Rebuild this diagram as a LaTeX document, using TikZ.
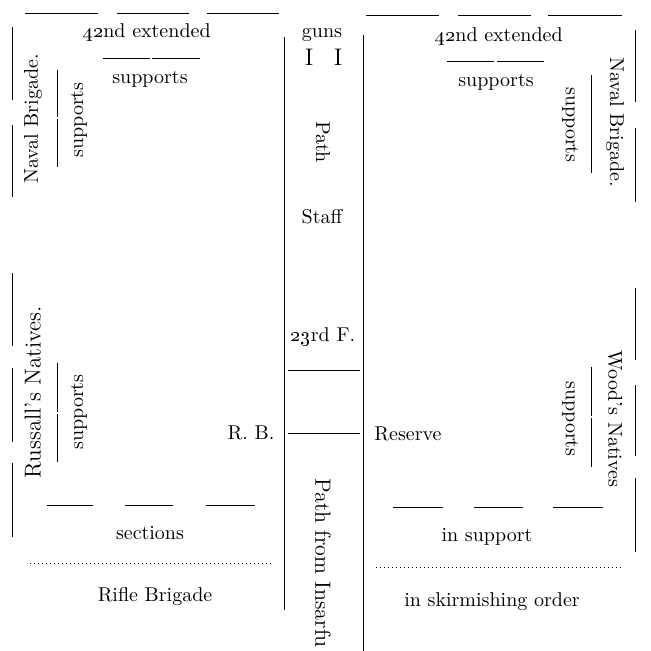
\documentclass[tikz,border=0pt]{standalone}
\usetikzlibrary{positioning}

\tikzset{
 lbl/.style={inner sep=1pt, font=\fontsize{10}{12}\selectfont},
 upword/.style={lbl, rotate=90},
 downword/.style={lbl, rotate=-90},
 rule/.style={black, line width=0.45pt},
 dotrule/.style={black, line width=0.5pt, dash pattern=on 0.5pt off 1.5pt},
}

\begin{document}
\begin{tikzpicture}[x=0.5pt,y=-0.5pt]
\useasboundingbox (0,0) rectangle (650,651);
% front rank
\foreach \a/\b in {25/98, 117/189, 207/279} {
 \draw[rule] (\a,13) -- (\b,13);
}
\foreach \a/\b in {366/439, 458/531, 548/622} {
 \draw[rule] (\a,15) -- (\b,15);
}
\draw[rule] (103,58) -- (150,58) (152,58) -- (200,58);
\draw[rule] (447,61) -- (494,61) (497,61) -- (544,61);
% flanks
\foreach \a/\b in {27/100, 125/197, 273/346, 368/442, 463/537} {
 \draw[rule] (12,\a) -- (12,\b);
}
\foreach \a/\b in {30/102, 128/202, 288/360, 385/456, 478/552} {
 \draw[rule] (635,\a) -- (635,\b);
}
\foreach \a/\b in {70/117, 119/167, 363/412, 414/462} {
 \draw[rule] (57,\a) -- (57,\b);
}
\foreach \a/\b in {75/173, 367/416, 418/467} {
 \draw[rule] (591,\a) -- (591,\b);
}
% path
\draw[rule] (284,37) -- (284,610);
\draw[rule] (363,35) -- (363,651);
\draw[rule] (288,370) -- (360,370);
\draw[rule] (288,433) -- (360,433);
% rear
\foreach \a/\b in {47/93, 125/173, 206/255} {
 \draw[rule] (\a,505) -- (\b,505);
}
\foreach \a/\b in {393/443, 474/523, 553/603} {
 \draw[rule] (\a,507) -- (\b,507);
}
\draw[dotrule] (30,563) -- (272,563);
\draw[dotrule] (376,567) -- (623,567);

\node[lbl] (extl) at (147,33) {\oldstylenums{42}nd extended};
\node[lbl] (extr) at (499,37) {\oldstylenums{42}nd extended};
\node[lbl] (supl) at (150,79) {supports};
\node[lbl] (supr) at (496,82) {supports};
\node[upword] (navl) at (33,119) {Naval Brigade.};
\node[downword] (navr) at (615,122) {Naval Brigade.};
\node[upword] (nsupl) at (79,120) {supports};
\node[downword] (nsupr) at (570,125) {supports};
\node[upword, font=\fontsize{11.5}{13}\selectfont] (russ) at (33,392) {Russall’s Natives.};
\node[upword] (rsup) at (79,412) {supports};
\node[downword] (wood) at (615,419) {Wood’s Natives};
\node[downword] (wsup) at (570,419) {supports};
\node[lbl] (guns) at (322,35) {guns};
\node[lbl, font=\fontsize{12}{14}\selectfont] (gunl) at (309,57) {I};
\node[lbl, font=\fontsize{12}{14}\selectfont] (gunr) at (338,57) {I};
\node[downword] (path) at (323,142) {Path};
\node[lbl] (staff) at (322,217) {Staff};
\node[lbl] (foot) at (323,337) {\oldstylenums{23}rd F.};
\node[lbl] (rb) at (251,433) {R. B.};
\node[lbl] (res) at (408,434) {Reserve};
\node[downword, font=\fontsize{11}{13}\selectfont] (insarfu) at (323,563) {Path from Insarfu};
\node[lbl] (sect) at (150,533) {sections};
\node[lbl] (rifle) at (155,597) {Rifle Brigade};
\node[lbl] (insup) at (487,537) {in support};
\node[lbl] (skirm) at (492,602) {in skirmishing order};
\end{tikzpicture}
\end{document}
